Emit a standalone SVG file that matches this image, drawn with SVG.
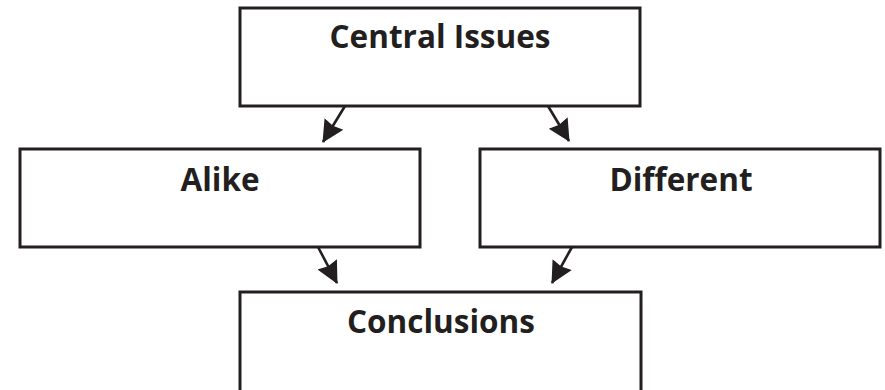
<svg xmlns="http://www.w3.org/2000/svg" width="885" height="390" viewBox="0 0 885 390">
<style>
.box{fill:#fff;stroke:#231f20;stroke-width:3}
.lbl{font-family:"Open Sans","Liberation Sans",sans-serif;font-weight:700;font-size:31.5px;fill:#231f20;text-anchor:middle}
.con{stroke:#231f20;stroke-width:2.6;fill:none}
</style>
<defs>
<marker id="ah" markerUnits="userSpaceOnUse" markerWidth="24" markerHeight="24" viewBox="0 0 24 24" refX="21" refY="12" orient="auto">
<path d="M0,1 L22,12 L0,23 L2,12 Z" fill="#231f20"/>
</marker>
</defs>
<rect width="885" height="390" fill="#fff"/>
<g id="central">
<rect class="box" x="240" y="8" width="400" height="98"/>
<text class="lbl" x="440" y="48">Central Issues</text>
</g>
<g id="alike">
<rect class="box" x="20" y="149" width="400" height="98"/>
<text class="lbl" x="220" y="191">Alike</text>
</g>
<g id="different">
<rect class="box" x="480" y="149" width="400" height="98"/>
<text class="lbl" x="681" y="191">Different</text>
</g>
<g id="conclusions">
<rect class="box" x="240" y="292" width="401" height="110"/>
<text class="lbl" x="441" y="333">Conclusions</text>
</g>
<g id="connectors">
<line class="con" x1="345" y1="106" x2="323" y2="142" marker-end="url(#ah)"/>
<line class="con" x1="548" y1="106" x2="569" y2="141" marker-end="url(#ah)"/>
<line class="con" x1="318" y1="247" x2="337" y2="283" marker-end="url(#ah)"/>
<line class="con" x1="572" y1="247" x2="552" y2="283" marker-end="url(#ah)"/>
</g>
</svg>
